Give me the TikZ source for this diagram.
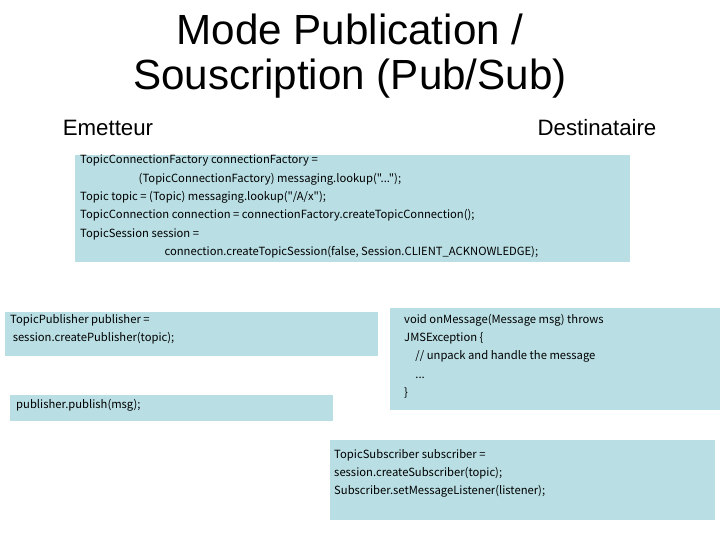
\documentclass[tikz,border=0pt]{standalone}
\usepackage{fontspec}
\setmainfont{Liberation Sans}
\newfontfamily\codefont{Noto Sans CJK JP}
\definecolor{boxblue}{RGB}{185,223,228}
\tikzset{
  codebox/.style={fill=boxblue, draw=none},
  codetext/.style={anchor=north west, align=left, inner sep=0pt, font=\codefont\fontsize{9.6pt}{15.6pt}\selectfont},
  heading/.style={font=\fontsize{19pt}{22pt}\selectfont}
}
\begin{document}
\begin{tikzpicture}[x=0.03cm,y=-0.03cm]
	\useasboundingbox (0,0) rectangle (720,540);
	
	% Title
	\node[align=center, font=\fontsize{36pt}{39pt}\selectfont] (title) at (350,56) {Mode Publication /\\Souscription (Pub/Sub)};
	\node[heading] (emetteur) at (108,128) {Emetteur};
	\node[heading] (destinataire) at (597,128) {Destinataire};
	
	% Boxes
	\fill[codebox] (75,155) rectangle (630,262);
	\fill[codebox] (5,312) rectangle (378,356);
	\fill[codebox] (10,395) rectangle (333,421);
	\fill[codebox] (390,308) rectangle (720,410);
	\fill[codebox] (330,440) rectangle (715,520);
	
	% Code texts
	\node[codetext] (setup) at (80,155) {TopicConnectionFactory connectionFactory =\\
		\hspace*{5.2em}(TopicConnectionFactory) messaging.lookup("...");\\
		Topic topic = (Topic) messaging.lookup("/A/x");\\
		TopicConnection connection = connectionFactory.createTopicConnection();\\
		TopicSession session =\\
		\hspace*{7.5em}connection.createTopicSession(false, Session.CLIENT\_ACKNOWLEDGE);};
	\node[codetext] (publisher) at (10,314) {TopicPublisher publisher =\\
		\ session.createPublisher(topic);};
	\node[codetext] (publish) at (16,399) {publisher.publish(msg);};
	\node[codetext] (onmessage) at (404,314) {void onMessage(Message msg) throws\\
		JMSException \{\\
		\hspace*{1em}// unpack and handle the message\\
		\hspace*{1em}...\\
		\}};
	\node[codetext] (subscriber) at (334,449) {TopicSubscriber subscriber =\\
		session.createSubscriber(topic);\\
		Subscriber.setMessageListener(listener);};
	
\end{tikzpicture}
\end{document}
